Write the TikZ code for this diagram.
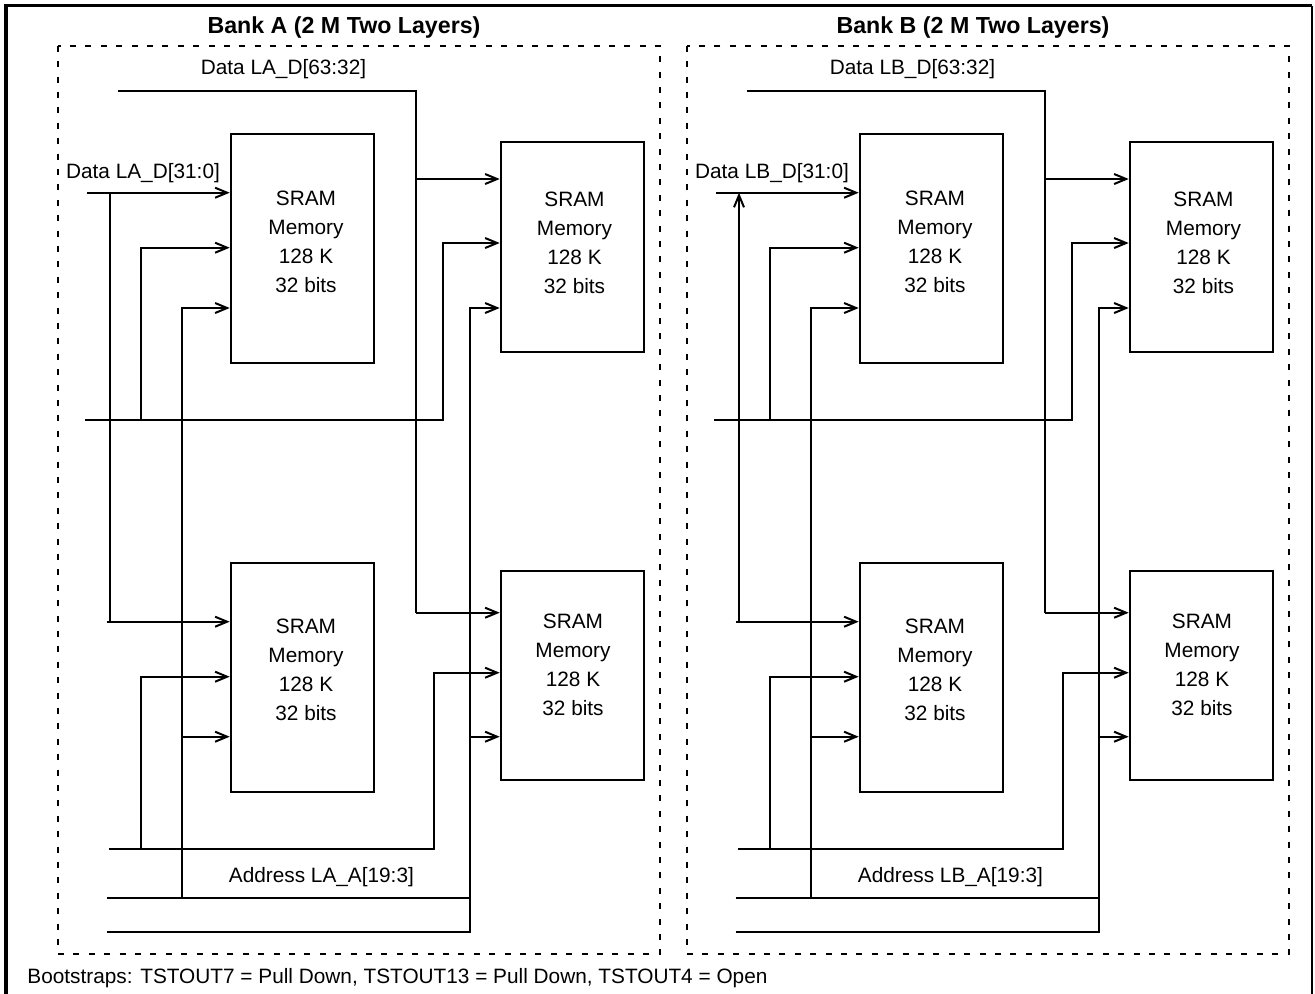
\documentclass[tikz,border=0pt]{standalone}
\usepackage{fontspec}
\setmainfont{Liberation Sans}
\usetikzlibrary{arrows.meta}

\begin{document}
\begin{tikzpicture}[x=0.5pt,y=-0.5pt,
   wire/.style={line width=1pt},
   feed/.style={wire,-{Straight Barb[length=6pt,width=5pt]}},
   nofeed/.style={wire},
   sram/.style={draw,line width=1.3pt,minimum width=71.5pt,inner sep=0pt},
   bank/.style={draw,line width=1.2pt,dash pattern=on 3pt off 4.7pt},
   lbl/.style={font=\fontsize{10.4}{12}\selectfont,inner sep=0pt,anchor=base},
   memtxt/.style={font=\fontsize{10.4}{14.5}\selectfont,align=center,inner sep=0pt}]
 \useasboundingbox (0,0) rectangle (1315,993);
 \draw[line width=1.8pt] (6,1000) |- (1312,5.5);
 \draw[line width=1pt] (1312,5.5) -- (1312,1000);
 \foreach \bk/\dx/\tip in {A/0/nofeed,B/629/feed}
 {\begin{scope}[shift={(\dx,0)}]
  \draw[bank] (57.7,45.7) rectangle (660,954);
  \node[lbl,font=\bfseries\fontsize{11.6}{13}\selectfont] (title\bk) at (344,33) {Bank \bk\ (2 M Two Layers)};
  \node[sram,minimum height=114.5pt] (m\bk1) at (302.5,248.5) {};
  \node[sram,minimum height=105pt] (m\bk2) at (572.5,247) {};
  \node[sram,minimum height=114.5pt] (m\bk3) at (302.5,677.5) {};
  \node[sram,minimum height=104.5pt] (m\bk4) at (572.5,675.5) {};
  \foreach \m/\tx/\ty in {1/306/241.5,2/574.5/243,3/306/670,4/573/665}
   \node[memtxt] (t\bk\m) at (\tx,\ty) {SRAM\\Memory\\128 K\\32 bits};
  \node[lbl] (dhi\bk) at (283.5,74) {Data L\bk\_D[63:32]};
  \node[lbl] (dlo\bk) at (143,178) {Data L\bk\_D[31:0]};
  \node[lbl] (adr\bk) at (321.4,882) {Address L\bk\_A[19:3]};
  % data high
  \coordinate (hi\bk) at (118,90.7);
  \coordinate (hiT\bk) at (416,179);
  \coordinate (hiB\bk) at (416,612.7);
  \draw[wire] (hi\bk) -| (hiB\bk);
  \draw[feed] (hiT\bk) -- (hiT\bk -| m\bk2.west);
  \draw[feed] (hiB\bk) -- (hiB\bk -| m\bk4.west);
  % data low
  \coordinate (lo\bk) at (87,192.7);
  \coordinate (loV\bk) at (110,192.7);
  \coordinate (loB\bk) at (110,621.7);
  \coordinate (loS\bk) at (106.5,621.7);
  \draw[feed] (lo\bk) -- (lo\bk -| m\bk1.west);
  \draw[\tip] (loB\bk) -- (loV\bk);
  \draw[feed] (loS\bk) -- (loS\bk -| m\bk3.west);
  % address
  \coordinate (a1\bk) at (85.4,420);
  \coordinate (a1r\bk) at (442.8,243);
  \coordinate (a1l\bk) at (141,247.7);
  \draw[feed] (a1\bk) -| (a1r\bk) -- (a1r\bk -| m\bk2.west);
  \draw[feed] (a1l\bk |- a1\bk) |- (m\bk1.west |- a1l\bk);
  \coordinate (a2\bk) at (109,849);
  \coordinate (a2r\bk) at (433.5,672.7);
  \coordinate (a2l\bk) at (141,676.7);
  \draw[feed] (a2\bk) -| (a2r\bk) -- (a2r\bk -| m\bk4.west);
  \draw[feed] (a2l\bk |- a2\bk) |- (m\bk3.west |- a2l\bk);
  \coordinate (a3\bk) at (106.5,897.7);
  \coordinate (a3e\bk) at (470,897.7);
  \coordinate (a3v\bk) at (182,308);
  \coordinate (a3m\bk) at (182,736.7);
  \draw[wire] (a3\bk) -- (a3e\bk);
  \draw[feed] (a3v\bk |- a3\bk) |- (m\bk1.west |- a3v\bk);
  \draw[feed] (a3m\bk) -- (a3m\bk -| m\bk3.west);
  \coordinate (a4\bk) at (106.5,931.7);
  \coordinate (a4v\bk) at (470,308);
  \coordinate (a4m\bk) at (470,736.7);
  \draw[feed] (a4\bk) -| (a4v\bk) -- (a4v\bk -| m\bk2.west);
  \draw[feed] (a4m\bk) -- (a4m\bk -| m\bk4.west);
 \end{scope}}
 \node[lbl,anchor=base west,font=\fontsize{10.4}{12}\selectfont] (boot) at (27,983)
  {Bootstraps: TSTOUT7 = Pull Down, TSTOUT13 = Pull Down, TSTOUT4 = Open};
\end{tikzpicture}
\end{document}
